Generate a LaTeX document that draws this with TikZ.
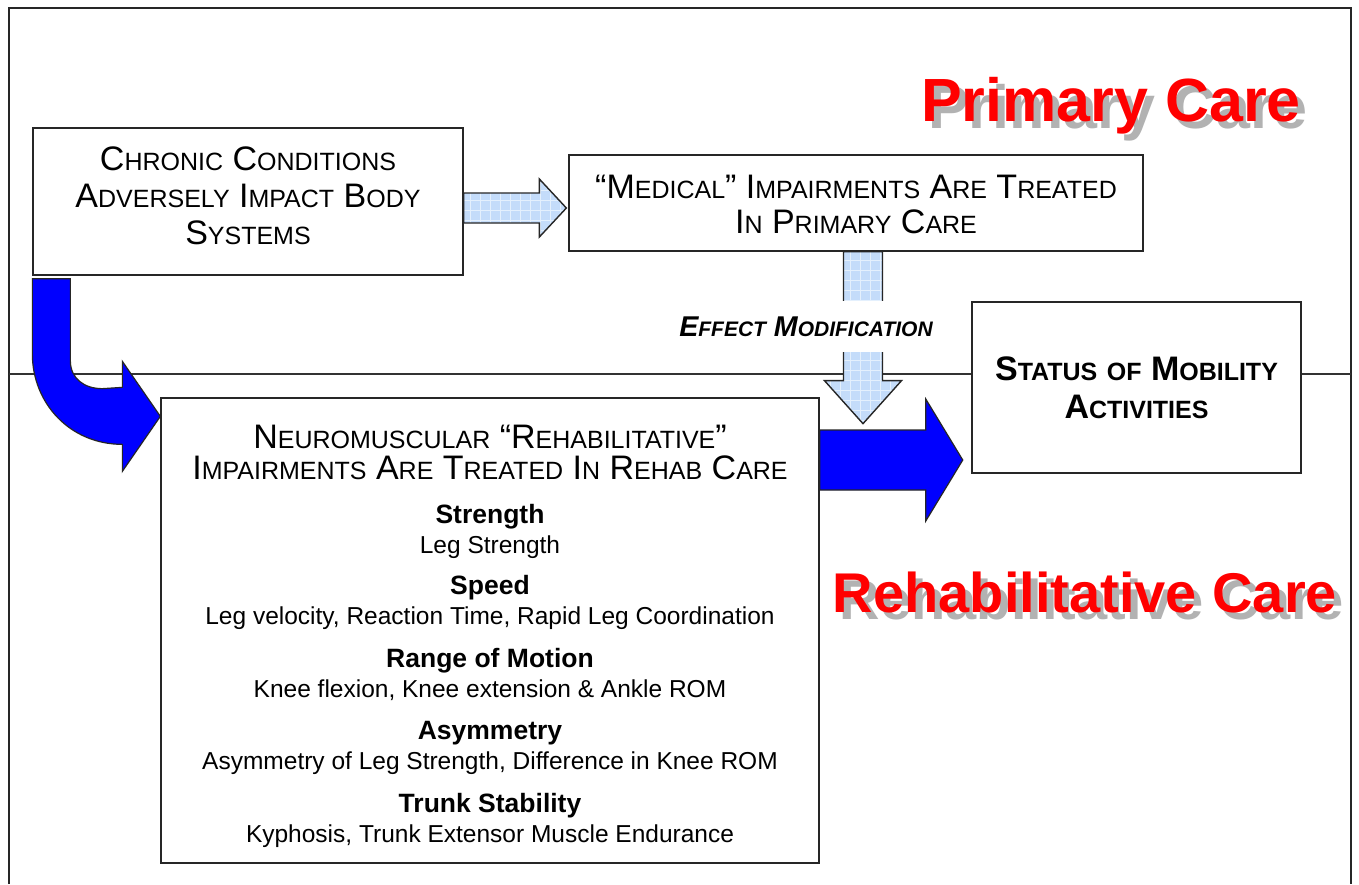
\documentclass[tikz,border=0pt]{standalone}
\usepackage{fontspec}
\setmainfont{Liberation Sans}
\usetikzlibrary{calc}
\def\smsize{25}
\newcommand\sm[1]{{\fontsize{\smsize}{\smsize}\selectfont #1}}
\newcommand\shadowed[1]{\rlap{\hspace*{7pt}\raisebox{-7pt}{\color{black!30}#1}}#1}
\definecolor{liteblue}{RGB}{196,220,250}
\definecolor{litegridc}{RGB}{228,240,253}
\definecolor{deepblue}{RGB}{0,0,255}
\definecolor{titlered}{RGB}{255,0,0}
\newcommand\pathH{($(h1)+(0,-15)$) -- ($(h2)+(-27,-15)$) -- ($(h2)+(-27,-29)$) -- (h2) -- ($(h2)+(-27,29)$) -- ($(h2)+(-27,15)$) -- ($(h1)+(0,15)$) -- cycle}
\newcommand\pathV{($(v1)+(-19.5,0)$) -- ($(v2)+(-19.5,-43)$) -- ($(v2)+(-38.5,-43)$) -- (v2) -- ($(v2)+(38.5,-43)$) -- ($(v2)+(19.5,-43)$) -- ($(v1)+(19.5,0)$) -- cycle}
\begin{document}
\begin{tikzpicture}[x=1pt,y=-1pt,
  box/.style={draw=black!85, line width=1.3pt, fill=white, inner sep=0pt},
  capstxt/.style={font=\fontsize{34}{37}\selectfont, align=center, inner sep=0pt},
  neutxt/.style={font=\fontsize{34}{31}\selectfont, align=center, inner sep=0pt},
  stattxt/.style={font=\fontsize{34}{38}\selectfont\bfseries, align=center, inner sep=0pt},
  efftxt/.style={font=\def\smsize{21}\fontsize{28.6}{30}\selectfont\bfseries\itshape, fill=white, inner xsep=4pt, inner ysep=0pt},
  headtxt/.style={font=\fontsize{26.5}{28}\selectfont\bfseries, anchor=base, inner sep=0pt},
  subtxt/.style={font=\fontsize{24.5}{26}\selectfont, anchor=base, inner sep=0pt},
  titletext/.style={font=\fontsize{61}{61}\selectfont\bfseries, text=titlered, anchor=base, inner sep=0pt},
  rtitletext/.style={titletext, font=\fontsize{56}{56}\selectfont\bfseries},
  frameline/.style={draw=black!85, line width=1.4pt},
  divider/.style={draw=black!80, line width=1.1pt},
  litefill/.style={fill=liteblue},
  litegrid/.style={draw=litegridc, line width=1pt, step=10pt},
  liteoutline/.style={draw=black!85, line width=1.4pt, line join=miter},
  bluearrow/.style={fill=deepblue, draw=black!85, line width=1.2pt, line join=miter}
]
\useasboundingbox (0,0) rectangle (1359,884);
\fill[white] (0,0) rectangle (1359,884);

% frame and divider
\coordinate (fbl) at (9,884);
\coordinate (ftl) at (9,8);
\coordinate (ftr) at (1351,8);
\coordinate (fbr) at (1351,884);
\coordinate (dl) at (9,374);
\coordinate (dr) at (1351,374);
\draw[frameline] (fbl) -- (ftl) -- (ftr) -- (fbr);
\draw[divider] (dl) -- (dr);

% titles (text with drop shadow)
\node[titletext] (pc) at (1111,121) {\shadowed{Primary Care}};
\node[rtitletext] (rc) at (1085,612) {\shadowed{Rehabilitative Care}};

% boxes
\node[box, minimum width=430pt, minimum height=147pt] (chronic) at (248,201.5) {};
\node[capstxt] (chronictxt) at (248,195.5) {C\sm{HRONIC} C\sm{ONDITIONS}\\A\sm{DVERSELY} I\sm{MPACT} B\sm{ODY}\\S\sm{YSTEMS}};

\node[box, minimum width=574pt, minimum height=96pt] (medical) at (856,203) {};
\node[capstxt, font=\fontsize{34}{35}\selectfont] (medicaltxt) at (856,204.5) {“M\sm{EDICAL}” I\sm{MPAIRMENTS} A\sm{RE} T\sm{REATED}\\I\sm{N} P\sm{RIMARY} C\sm{ARE}};

\node[box, line width=2.5pt, minimum width=329pt, minimum height=171pt] (status) at (1136.5,387.5) {};
\node[stattxt] (statustxt) at (1136.5,388) {S\sm{TATUS} \sm{OF} M\sm{OBILITY}\\A\sm{CTIVITIES}};

\node[box, minimum width=658pt, minimum height=465pt] (neuro) at (490,630.5) {};
\node[neutxt] (neurotxt) at (490,452.5) {N\sm{EUROMUSCULAR} “R\sm{EHABILITATIVE}”\\I\sm{MPAIRMENTS} A\sm{RE} T\sm{REATED} I\sm{N} R\sm{EHAB} C\sm{ARE}};
\node[headtxt] (h1t) at (490,523) {Strength};
\node[subtxt] (s1t) at (490,553) {Leg Strength};
\node[headtxt] (h2t) at (490,594) {Speed};
\node[subtxt] (s2t) at (490,624) {Leg velocity, Reaction Time, Rapid Leg Coordination};
\node[headtxt] (h3t) at (490,667) {Range of Motion};
\node[subtxt] (s3t) at (490,697) {Knee flexion, Knee extension \& Ankle ROM};
\node[headtxt] (h4t) at (490,739) {Asymmetry};
\node[subtxt] (s4t) at (490,769) {Asymmetry of Leg Strength, Difference in Knee ROM};
\node[headtxt] (h5t) at (490,812) {Trunk Stability};
\node[subtxt] (s5t) at (490,842) {Kyphosis, Trunk Extensor Muscle Endurance};

% light horizontal arrow chronic -> medical
\coordinate (h1) at ($(chronic.east)+(0,6.5)$);
\coordinate (h2) at ($(medical.west)+(-2,5)$);
\begin{scope}
  \clip \pathH;
  \fill[litefill] (440,170) rectangle (580,250);
  \draw[litegrid] (440,170) grid (580,250);
\end{scope}
\draw[liteoutline] \pathH;

% light vertical arrow medical -> blue arrow
\coordinate (v1) at ($(medical.south)+(7,0)$);
\coordinate (v2) at ($(v1)+(0,172)$);
\begin{scope}
  \clip \pathV;
  \fill[litefill] (820,250) rectangle (910,430);
  \draw[litegrid] (820,250) grid (910,430);
\end{scope}
\draw[liteoutline] \pathV;
\node[efftxt, minimum height=51pt] (effect) at (806,326.5) {E\sm{FFECT} M\sm{ODIFICATION}};

% blue arrow neuro -> status
\coordinate (b1) at ($(neuro.east)+(0,-170.5)$);
\coordinate (b2) at ($(status.west)+(-8,72.5)$);
\draw[bluearrow] ($(b1)+(0,-30)$) -- ($(b2)+(-37,-30)$) -- ($(b2)+(-37,-61)$) -- (b2) -- ($(b2)+(-37,61)$) -- ($(b2)+(-37,30)$) -- ($(b1)+(0,30)$) -- cycle;

% curved blue arrow chronic -> neuro
\coordinate (c0) at ($(chronic.south west)+(0,3)$);
\coordinate (ct) at ($(neuro.north west)+(0,19)$);
\draw[bluearrow] (c0) -- ($(c0)+(38,0)$) -- ($(c0)+(38,82)$)
  .. controls ($(c0)+(38,100)$) and ($(c0)+(52,110)$) .. ($(c0)+(70,110)$)
  -- ($(ct)+(-38,-29)$) -- ($(ct)+(-38,-55)$) -- (ct) -- ($(ct)+(-38,55)$) -- ($(ct)+(-38,28)$)
  .. controls ($(ct)+(-90,28)$) and ($(c0)+(0,125)$) .. ($(c0)+(0,75)$) -- cycle;
\end{tikzpicture}
\end{document}
